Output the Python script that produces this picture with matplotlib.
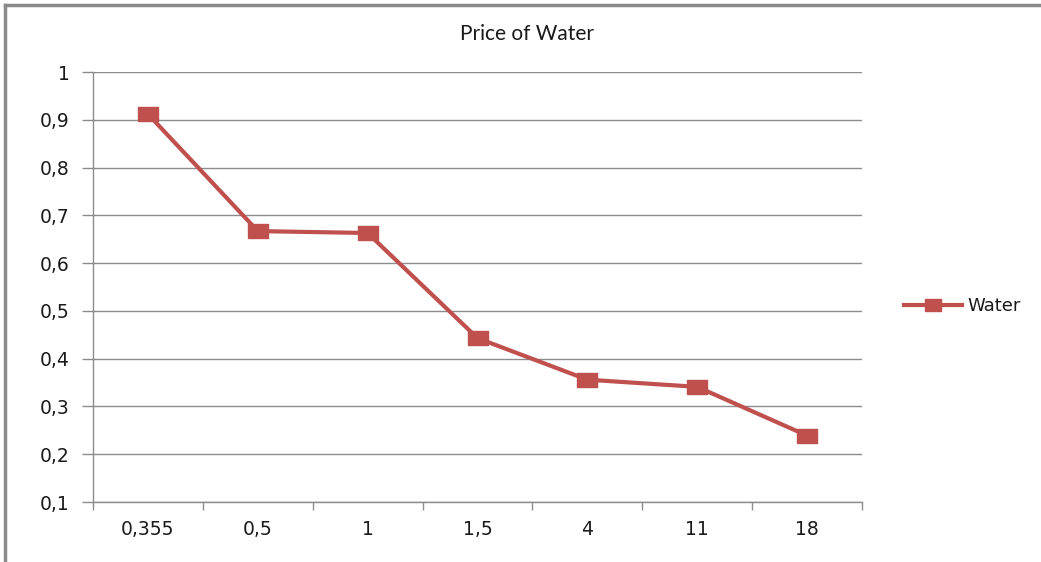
import matplotlib
matplotlib.use("Agg")
import matplotlib.pyplot as plt
import matplotlib.lines as mlines
import numpy as np

# chart data
categories = ["0,355", "0,5", "1", "1,5", "4", "11", "18"]
water = [0.912, 0.667, 0.663, 0.443, 0.356, 0.341, 0.239]
y_ticks = [0.1, 0.2, 0.3, 0.4, 0.5, 0.6, 0.7, 0.8, 0.9, 1.0]
y_labels = ["0,1", "0,2", "0,3", "0,4", "0,5", "0,6", "0,7", "0,8", "0,9", "1"]

plt.rcParams["font.family"] = ["DejaVu Sans"]

RED = "#C0504D"
GRID = "#8C8C8C"
rect_marker = [(-1, -0.7), (1, -0.7), (1, 0.7), (-1, 0.7), (-1, -0.7)]

fig = plt.figure(figsize=(10.41, 5.62), dpi=100)
ax = fig.add_axes([93 / 1041, 1 - 502 / 562, (862 - 93) / 1041, (502 - 72) / 562])

x = np.arange(len(categories))
ax.plot(x, water, color=RED, lw=3, marker=rect_marker, markersize=15,
        markerfacecolor=RED, markeredgecolor=RED, zorder=3)

ax.set_xlim(-0.5, len(categories) - 0.5)
ax.set_ylim(0.1, 1.0)

# category boundary ticks (major), labels at centres (minor)
ax.set_xticks(np.arange(-0.5, len(categories), 1.0))
ax.set_xticklabels([])
ax.set_xticks(x, minor=True)
ax.set_xticklabels(categories, minor=True)
ax.tick_params(axis="x", which="major", length=6, color=GRID, width=1)
ax.tick_params(axis="x", which="minor", length=0, pad=13, labelsize=13.5, labelcolor="#1a1a1a")

ax.set_yticks(y_ticks)
ax.set_yticklabels(y_labels)
ax.tick_params(axis="y", length=8, color=GRID, width=1, pad=9, labelsize=13.5, labelcolor="#1a1a1a")
ax.yaxis.grid(True, color=GRID, lw=1)
ax.set_axisbelow(True)

for s in ["top", "right"]:
    ax.spines[s].set_visible(False)
for s in ["left", "bottom"]:
    ax.spines[s].set_color(GRID)
    ax.spines[s].set_linewidth(1)

fig.text(527 / 1041, 1 - 34 / 562, "Price of Water", ha="center", va="center",
         fontsize=15, family="Lato", color="#1a1a1a")

handle = mlines.Line2D([], [], color=RED, lw=3, marker=rect_marker, markersize=12,
                       markerfacecolor=RED, markeredgecolor=RED, label="Water")
leg = fig.legend(handles=[handle], loc="center left", bbox_to_anchor=(888 / 1041, 1 - 306 / 562),
                 frameon=False, fontsize=13, handlelength=3.2, handletextpad=0.3)
for t in leg.get_texts():
    t.set_color("#1a1a1a")

# outer chart frame (left and top only are visible in the reference)
fig.add_artist(mlines.Line2D([5 / 1041, 5 / 1041], [0, 1 - 5 / 562], color="#8a8a8a", lw=2.5))
fig.add_artist(mlines.Line2D([5 / 1041, 1], [1 - 5 / 562, 1 - 5 / 562], color="#8a8a8a", lw=2.5))

fig.savefig("out.png", dpi=100)
